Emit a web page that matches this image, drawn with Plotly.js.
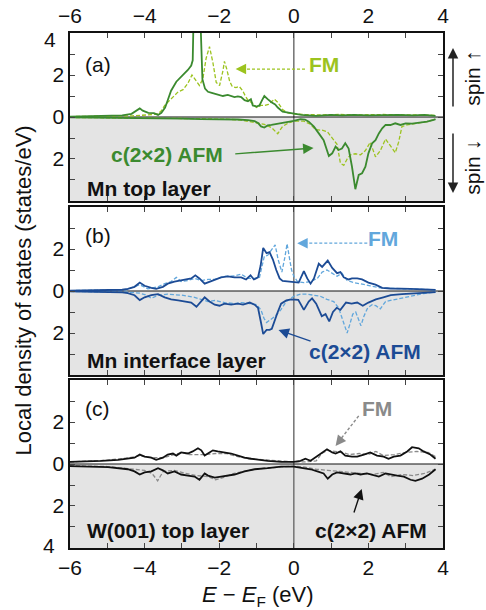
<!DOCTYPE html>
<html>
<head>
<meta charset="utf-8">
<script src="https://cdn.plot.ly/plotly-3.0.1.min.js"></script>
<style>html,body{margin:0;padding:0;background:#fff;}#chart{width:486px;height:610px;}</style>
</head>
<body>
<div id="chart"></div>
<script>
// ---------- DATA (energies in eV, DOS in states/eV; spin-down stored as magnitudes) ----------
// Panel (a): Mn top layer
const aAfmUpX = [-6,-5.5,-5.0,-4.6,-4.35,-4.22,-4.13,-4.05,-3.9,-3.75,-3.64,-3.55,-3.45,-3.38,-3.29,-3.15,-3.02,-2.9,-2.84,-2.75,-2.71,-2.69,-2.6,-2.5,-2.45,-2.38,-2.3,-2.2,-2.12,-2.0,-1.9,-1.77,-1.68,-1.59,-1.5,-1.41,-1.32,-1.23,-1.15,-1.1,-1.0,-0.92,-0.85,-0.79,-0.7,-0.6,-0.5,-0.43,-0.3,-0.16,0,0.2,0.4,0.6,0.8,1.0,1.3,1.6,2.0,2.4,2.8,3.2,3.5,3.8];
const aAfmUpY = [0.02,0.03,0.04,0.08,0.15,0.3,0.41,0.3,0.2,0.18,0.1,0.2,0.45,0.8,1.25,1.68,1.92,2.1,2.24,2.45,2.7,4.5,6,4.5,1.8,1.35,1.2,1.15,1.1,1.05,1.0,1.05,1.0,0.95,0.98,0.95,0.8,0.75,0.85,0.55,0.5,0.55,0.8,1.0,0.85,0.7,0.6,0.45,0.25,0.2,0.15,0.1,0.08,0.05,0.08,0.1,0.08,0.1,0.08,0.1,0.1,0.08,0.1,0.05];
const aAfmDnX = [-6,-5,-4,-3.5,-3,-2.5,-2,-1.5,-1.23,-1.05,-0.95,-0.88,-0.79,-0.7,-0.6,-0.5,-0.33,-0.16,0,0.18,0.3,0.4,0.54,0.67,0.8,0.94,1.03,1.12,1.2,1.29,1.38,1.47,1.56,1.65,1.74,1.83,1.92,2.0,2.1,2.19,2.28,2.37,2.46,2.59,2.72,2.86,3.0,3.17,3.39,3.57,3.75,3.8];
const aAfmDnY = [0.02,0.03,0.05,0.08,0.08,0.1,0.1,0.12,0.15,0.2,0.3,0.45,0.5,0.4,0.38,0.35,0.3,0.25,0.18,0.1,0.12,0.22,0.46,0.78,1.1,1.86,1.73,1.41,1.57,1.5,1.25,1.5,2.37,3.44,2.76,2.68,2.37,1.73,1.25,1.1,0.78,0.54,0.38,0.38,0.3,0.38,0.3,0.32,0.27,0.22,0.14,0.1];
const aFmUpX = [-6,-5,-4.3,-3.91,-3.64,-3.55,-3.46,-3.38,-3.29,-3.2,-3.1,-2.97,-2.84,-2.73,-2.62,-2.53,-2.44,-2.35,-2.26,-2.17,-2.08,-1.99,-1.9,-1.86,-1.8,-1.72,-1.65,-1.55,-1.46,-1.37,-1.3,-1.23,-1.1,-1.0,-0.88,-0.79,-0.68,-0.58,-0.52,-0.43,-0.3,-0.16,0,0.3,0.7,1.2,1.8,2.4,3.0,3.4,3.8];
const aFmUpY = [0.02,0.04,0.06,0.1,0.15,0.3,0.55,0.7,0.85,1.0,1.2,1.3,1.6,2.0,1.7,1.5,1.8,2.8,3.35,2.6,1.65,1.5,2.2,2.65,2.3,1.7,1.45,1.4,1.45,1.25,1.0,0.8,0.65,0.45,0.55,0.55,0.6,0.75,0.85,0.7,0.35,0.2,0.15,0.12,0.1,0.12,0.1,0.12,0.1,0.12,0.08];
const aFmDnX = [-6,-5,-4,-3,-2.5,-2.12,-1.8,-1.41,-1.05,-0.79,-0.6,-0.5,-0.43,-0.36,-0.3,-0.16,0,0.27,0.45,0.58,0.76,0.9,1.03,1.16,1.25,1.34,1.43,1.52,1.65,1.79,1.92,2.05,2.19,2.32,2.46,2.59,2.72,2.81,2.9,3.04,3.3,3.57,3.8];
const aFmDnY = [0.02,0.03,0.04,0.05,0.08,0.1,0.1,0.15,0.25,0.35,0.5,0.65,0.8,0.6,0.45,0.3,0.2,0.2,0.35,0.6,0.63,0.7,1.0,1.3,2.2,2.3,2.0,1.8,1.75,1.8,1.6,1.2,1.9,1.6,1.05,1.35,1.7,1.2,0.45,0.38,0.3,0.22,0.1];

// Panel (b): Mn interface layer
const bAfmUpX = [-6,-5.5,-5.0,-4.6,-4.45,-4.27,-4.13,-4.0,-3.82,-3.69,-3.51,-3.38,-3.2,-3.02,-2.88,-2.75,-2.64,-2.53,-2.39,-2.26,-2.12,-1.95,-1.77,-1.59,-1.41,-1.28,-1.16,-1.07,-0.96,-0.89,-0.82,-0.73,-0.65,-0.56,-0.47,-0.38,-0.3,-0.12,0,0.13,0.27,0.36,0.45,0.54,0.67,0.76,0.91,1.03,1.16,1.25,1.34,1.47,1.56,1.7,1.83,2.0,2.19,2.37,2.59,2.86,3.13,3.48,3.8];
const bAfmUpY = [0.02,0.03,0.04,0.06,0.1,0.2,0.4,0.25,0.15,0.1,0.2,0.35,0.45,0.5,0.55,0.6,0.75,0.6,0.35,0.45,0.55,0.65,0.7,0.65,0.65,0.55,0.75,0.55,0.65,1.2,2.05,1.8,1.85,1.5,1.0,0.6,0.48,0.45,0.45,0.4,0.95,0.6,0.35,0.6,1.3,1.15,1.45,1.1,0.85,0.9,0.65,0.55,0.6,0.6,0.55,0.4,0.3,0.15,0.12,0.12,0.1,0.08,0.05];
const bAfmDnX = [-6,-5.5,-5.0,-4.6,-4.45,-4.27,-4.13,-4.0,-3.82,-3.64,-3.46,-3.29,-3.1,-2.93,-2.75,-2.61,-2.48,-2.39,-2.26,-2.12,-1.99,-1.86,-1.68,-1.5,-1.36,-1.18,-1.05,-0.96,-0.88,-0.82,-0.73,-0.65,-0.59,-0.52,-0.43,-0.34,-0.2,-0.07,0,0.12,0.27,0.4,0.49,0.6,0.75,0.85,0.95,1.05,1.15,1.25,1.4,1.55,1.7,1.85,2.0,2.2,2.4,2.6,2.9,3.2,3.5,3.8];
const bAfmDnY = [0.02,0.03,0.04,0.06,0.1,0.2,0.43,0.3,0.2,0.15,0.3,0.4,0.45,0.5,0.55,0.75,0.5,0.3,0.5,0.65,0.7,0.6,0.65,0.6,0.65,0.55,0.65,0.8,1.5,2.05,1.85,1.85,1.8,1.4,1.0,0.6,0.45,0.4,0.4,0.42,0.9,0.5,0.35,0.6,1.2,1.1,1.45,1.0,0.8,0.9,0.55,0.6,0.55,0.7,0.55,0.4,0.3,0.2,0.15,0.12,0.08,0.05];
const bFmUpX = [-6,-5,-4.5,-4.13,-3.91,-3.64,-3.46,-3.29,-3.15,-3.02,-2.84,-2.66,-2.48,-2.3,-2.12,-1.86,-1.59,-1.41,-1.23,-1.05,-0.92,-0.85,-0.79,-0.7,-0.61,-0.5,-0.42,-0.32,-0.24,-0.18,-0.12,-0.06,0,0.1,0.27,0.45,0.63,0.76,0.89,1.03,1.16,1.29,1.43,1.61,1.79,2.05,2.32,2.59,3.04,3.48,3.8];
const bFmUpY = [0.02,0.03,0.06,0.3,0.1,0.2,0.35,0.45,0.65,0.45,0.5,0.6,0.5,0.55,0.55,0.7,0.72,0.8,0.6,0.6,0.65,1.2,1.65,1.7,1.95,2.2,1.5,0.9,1.6,2.25,1.6,1.0,0.7,0.45,0.4,0.45,0.6,0.9,1.0,0.85,0.7,0.85,0.5,0.4,0.35,0.25,0.15,0.12,0.1,0.08,0.05];
const bFmDnX = [-6,-5,-4.4,-4.13,-3.95,-3.82,-3.7,-3.64,-3.38,-3.0,-2.66,-2.3,-2.12,-1.86,-1.59,-1.41,-1.18,-1.0,-0.88,-0.8,-0.73,-0.65,-0.5,-0.35,-0.2,0,0.18,0.36,0.54,0.71,0.89,1.07,1.2,1.3,1.37,1.43,1.5,1.58,1.66,1.73,1.8,1.88,1.98,2.1,2.2,2.32,2.46,2.59,2.86,3.13,3.48,3.8];
const bFmDnY = [0.02,0.04,0.06,0.1,0.2,0.35,0.25,0.2,0.15,0.2,0.3,0.5,0.45,0.55,0.6,0.55,0.6,0.65,0.9,1.3,1.5,1.4,1.2,0.9,0.5,0.25,0.15,0.15,0.2,0.25,0.4,0.5,0.8,1.3,1.7,2.0,1.6,1.1,1.0,1.3,1.65,1.2,0.8,0.65,0.7,0.85,0.5,0.45,0.35,0.25,0.12,0.05];

// Panel (c): W(001) top layer
const cAfmUpX = [-6,-5.52,-5.16,-4.71,-4.45,-4.27,-4.13,-4.0,-3.82,-3.69,-3.51,-3.38,-3.24,-3.15,-3.02,-2.84,-2.71,-2.57,-2.48,-2.39,-2.26,-2.17,-2.04,-1.86,-1.68,-1.5,-1.32,-1.14,-0.96,-0.7,-0.34,0,0.18,0.31,0.45,0.58,0.71,0.89,1.03,1.12,1.25,1.38,1.56,1.7,1.88,2.05,2.23,2.41,2.54,2.68,2.86,3.04,3.17,3.35,3.48,3.66,3.8];
const cAfmUpY = [0.1,0.12,0.15,0.2,0.25,0.3,0.45,0.35,0.3,0.2,0.3,0.45,0.5,0.4,0.55,0.5,0.6,0.75,0.65,0.4,0.55,0.65,0.6,0.55,0.5,0.4,0.3,0.25,0.2,0.15,0.1,0.1,0.15,0.25,0.15,0.3,0.45,0.7,0.55,0.5,0.6,0.4,0.35,0.35,0.45,0.55,0.4,0.35,0.25,0.35,0.4,0.6,0.8,0.75,0.6,0.45,0.25];
const cAfmDnX = [-6,-5.5,-4.98,-4.45,-4.27,-4.13,-4.0,-3.82,-3.64,-3.51,-3.38,-3.2,-3.02,-2.84,-2.66,-2.53,-2.39,-2.3,-2.12,-1.95,-1.77,-1.59,-1.32,-1.05,-0.7,-0.34,0,0.27,0.45,0.63,0.8,0.91,1.03,1.16,1.34,1.52,1.65,1.79,1.96,2.14,2.28,2.46,2.59,2.77,2.95,3.13,3.26,3.44,3.63,3.8];
const cAfmDnY = [0.1,0.12,0.15,0.25,0.35,0.5,0.4,0.35,0.2,0.3,0.45,0.35,0.5,0.55,0.6,0.75,0.45,0.55,0.65,0.6,0.55,0.5,0.35,0.25,0.2,0.12,0.12,0.2,0.25,0.35,0.45,0.7,0.5,0.4,0.45,0.5,0.45,0.5,0.45,0.55,0.6,0.45,0.5,0.55,0.6,0.75,0.8,0.7,0.5,0.25];
const cFmUpX = [-6,-5,-4.4,-4.13,-3.8,-3.5,-3.2,-3.0,-2.8,-2.6,-2.4,-2.1,-1.8,-1.5,-1.2,-0.8,-0.4,0,0.3,0.6,0.75,0.9,1.1,1.3,1.5,1.75,2.0,2.2,2.4,2.7,3.0,3.3,3.6,3.8];
const cFmUpY = [0.1,0.18,0.3,0.4,0.3,0.3,0.45,0.55,0.45,0.45,0.45,0.5,0.5,0.35,0.25,0.2,0.15,0.1,0.1,0.15,0.5,0.65,0.6,0.55,0.45,0.5,0.45,0.6,0.4,0.45,0.55,0.6,0.55,0.35];
const cFmDnX = [-6,-5,-4.3,-4.0,-3.8,-3.65,-3.5,-3.2,-2.9,-2.6,-2.3,-2.1,-1.9,-1.6,-1.2,-0.8,-0.4,0,0.3,0.6,0.9,1.2,1.5,1.8,2.1,2.4,2.6,2.9,3.2,3.5,3.8];
const cFmDnY = [0.08,0.12,0.25,0.3,0.45,0.8,0.35,0.3,0.45,0.55,0.6,0.75,0.65,0.45,0.3,0.2,0.15,0.1,0.15,0.25,0.3,0.35,0.4,0.45,0.5,0.4,0.6,0.5,0.55,0.45,0.25];

// Tick labels
const xTickVals = [-6,-5,-4,-3,-2,-1,0,1,2,3,4];
const xTickText = ['\u22126','','\u22124','','\u22122','','0','','2','','4'];
const yTickVals = [-4,-3,-2,-1,0,1,2,3,4];
const yTickTextA = ['','','2','','0','','2','',''];   // corner "4" labels drawn separately, nudged off the x labels
const yTickTextB = ['','','2','','0','','2','',''];
const yTickTextC = ['','','2','','0','','2','',''];
const cornerYLabel = '4';

// ---------- STYLE ----------
const FONT = 'Liberation Sans, Arial, Helvetica, sans-serif';
const colors = {
  a: {afm: '#3b8a2f', fm: '#9cc31e'},
  b: {afm: '#1c4b95', fm: '#62a7dc'},
  c: {afm: '#111111', fm: '#8a8a8a'}
};
const neg = arr => arr.map(v => -v);

function panelTraces(p, xa, ya, afmUpX, afmUpY, afmDnX, afmDnY, fmUpX, fmUpY, fmDnX, fmDnY) {
  const fmLine = {color: colors[p].fm, width: 1.3, dash: '4px,2px'};
  const afmLine = {color: colors[p].afm, width: 1.8};
  return [
    {x: fmUpX, y: fmUpY, xaxis: xa, yaxis: ya, type: 'scatter', mode: 'lines', line: fmLine, hoverinfo: 'skip'},
    {x: fmDnX, y: neg(fmDnY), xaxis: xa, yaxis: ya, type: 'scatter', mode: 'lines', line: fmLine, hoverinfo: 'skip'},
    {x: afmUpX, y: afmUpY, xaxis: xa, yaxis: ya, type: 'scatter', mode: 'lines', line: afmLine, hoverinfo: 'skip'},
    {x: afmDnX, y: neg(afmDnY), xaxis: xa, yaxis: ya, type: 'scatter', mode: 'lines', line: afmLine, hoverinfo: 'skip'}
  ];
}

const traces = [].concat(
  panelTraces('a', 'x', 'y', aAfmUpX, aAfmUpY, aAfmDnX, aAfmDnY, aFmUpX, aFmUpY, aFmDnX, aFmDnY),
  panelTraces('b', 'x2', 'y2', bAfmUpX, bAfmUpY, bAfmDnX, bAfmDnY, bFmUpX, bFmUpY, bFmDnX, bFmDnY),
  panelTraces('c', 'x3', 'y3', cAfmUpX, cAfmUpY, cAfmDnX, cAfmDnY, cFmUpX, cFmUpY, cFmDnX, cFmDnY)
);

const tickFont = {family: FONT, size: 21, color: '#111'};
function xAxis(anchor, side, showLabels) {
  return {
    anchor: anchor, side: side, range: [-6, 4], domain: [0, 1],
    tickmode: 'array', tickvals: xTickVals, ticktext: xTickText,
    showticklabels: showLabels, ticks: 'inside', ticklen: 5, tickwidth: 1, tickcolor: '#444',
    showline: true, mirror: 'ticks', linecolor: '#111', linewidth: 1.6,
    showgrid: false, zeroline: false, tickfont: tickFont, fixedrange: true
  };
}
function yAxis(anchor, domain, ticktext) {
  return {
    anchor: anchor, domain: domain, range: [-4, 4],
    tickmode: 'array', tickvals: yTickVals, ticktext: ticktext,
    ticks: 'inside', ticklen: 5, tickwidth: 1, tickcolor: '#444',
    showline: true, mirror: 'ticks', linecolor: '#111', linewidth: 1.6,
    showgrid: false, zeroline: false, tickfont: tickFont, fixedrange: true
  };
}

function panelShapes(xr, yr) {
  return [
    {type: 'rect', xref: xr, yref: yr, x0: -6, x1: 4, y0: -4, y1: 0, fillcolor: '#e4e4e4', line: {width: 0}, layer: 'below'},
    {type: 'line', xref: xr, yref: yr, x0: 0, x1: 0, y0: -4, y1: 4, line: {color: '#7a7a7a', width: 1.6}, layer: 'below'},
    {type: 'line', xref: xr, yref: yr, x0: -6, x1: 4, y0: 0, y1: 0, line: {color: '#111', width: 1.1}, layer: 'below'}
  ];
}

const shapes = [].concat(
  panelShapes('x', 'y'), panelShapes('x2', 'y2'), panelShapes('x3', 'y3'),
  [
    // dashed shafts of FM arrows
    {type: 'line', xref: 'x', yref: 'y', x0: 0.3, y0: 2.28, x1: -1.4, y1: 2.28, line: {color: colors.a.fm, width: 1.4, dash: '3px,2px'}},
    {type: 'line', xref: 'x2', yref: 'y2', x0: 1.97, y0: 2.28, x1: 0.25, y1: 2.28, line: {color: colors.b.fm, width: 1.4, dash: '3px,2px'}},
    {type: 'line', xref: 'x3', yref: 'y3', x0: 1.74, y0: 2.29, x1: 1.25, y1: 1.17, line: {color: colors.c.fm, width: 1.4, dash: '3px,2px'}}
  ]
);

function txt(xr, yr, x, y, text, color, xanchor, bold) {
  return {xref: xr, yref: yr, x: x, y: y, text: bold ? '<b>' + text + '</b>' : text, showarrow: false,
          xanchor: xanchor, yanchor: 'middle', font: {family: FONT, size: 21, color: color}};
}
function arrow(xr, yr, tipX, tipY, tailX, tailY, color) {
  return {xref: xr, yref: yr, x: tipX, y: tipY, axref: xr, ayref: yr, ax: tailX, ay: tailY,
          text: '', showarrow: true, arrowhead: 2, arrowsize: 1.5, arrowwidth: 1.4, arrowcolor: color, standoff: 0};
}

const annotations = [
  // corner y tick labels
  {xref: 'paper', yref: 'y', x: -0.032, y: 3.68, text: cornerYLabel, showarrow: false, xanchor: 'right', yanchor: 'middle',
   font: {family: FONT, size: 21, color: '#111'}},
  {xref: 'paper', yref: 'y3', x: -0.035, y: -3.9, text: cornerYLabel, showarrow: false, xanchor: 'right', yanchor: 'middle',
   font: {family: FONT, size: 21, color: '#111'}},
  // panel a
  txt('x', 'y', -5.66, 2.5, '(a)', '#111', 'left', false),
  txt('x', 'y', 0.8, 2.5, 'FM', colors.a.fm, 'center', true),
  arrow('x', 'y', -1.56, 2.28, -1.3, 2.28, colors.a.fm),
  txt('x', 'y', -3.4, -1.78, 'c(2\u00d72) AFM', colors.a.afm, 'center', true),
  arrow('x', 'y', 0.53, -1.48, -1.61, -1.76, colors.a.afm),
  txt('x', 'y', -5.6, -3.4, 'Mn top layer', '#111', 'left', true),
  // panel b
  txt('x2', 'y2', -5.66, 2.62, '(b)', '#111', 'left', false),
  txt('x2', 'y2', 2.4, 2.5, 'FM', colors.b.fm, 'center', true),
  arrow('x2', 'y2', 0.09, 2.28, 0.35, 2.28, colors.b.fm),
  txt('x2', 'y2', 1.92, -2.9, 'c(2\u00d72) AFM', colors.b.afm, 'center', true),
  arrow('x2', 'y2', -0.41, -1.86, 0.49, -2.41, colors.b.afm),
  txt('x2', 'y2', -5.6, -3.3, 'Mn interface layer', '#111', 'left', true),
  // panel c
  txt('x3', 'y3', -5.66, 2.62, '(c)', '#111', 'left', false),
  txt('x3', 'y3', 2.24, 2.62, 'FM', colors.c.fm, 'center', true),
  arrow('x3', 'y3', 1.12, 0.86, 1.31, 1.29, colors.c.fm),
  txt('x3', 'y3', 2.06, -3.19, 'c(2\u00d72) AFM', '#111', 'center', true),
  arrow('x3', 'y3', 1.82, -1.19, 1.6, -2.38, '#111'),
  txt('x3', 'y3', -5.6, -3.19, 'W(001) top layer', '#111', 'left', true),
  // axis titles
  {xref: 'paper', yref: 'paper', x: -0.126, y: 0.5, text: 'Local density of states (states/eV)', textangle: -90,
   showarrow: false, xanchor: 'center', yanchor: 'middle', font: {family: FONT, size: 22, color: '#111'}},
  {xref: 'paper', yref: 'paper', x: 0.504, y: -0.093, text: '<i>E</i> \u2212 <i>E</i><sub>F</sub> (eV)',
   showarrow: false, xanchor: 'center', yanchor: 'middle', font: {family: FONT, size: 22, color: '#111'}},
  // spin labels
  {xref: 'paper', yref: 'paper', x: 1.077, y: 0.9126, text: 'spin \u2191', textangle: -90,
   showarrow: false, xanchor: 'center', yanchor: 'middle', font: {family: FONT, size: 21, color: '#111'}},
  {xref: 'paper', yref: 'paper', x: 1.077, y: 0.7398, text: 'spin \u2193', textangle: -90,
   showarrow: false, xanchor: 'center', yanchor: 'middle', font: {family: FONT, size: 21, color: '#111'}},
  {xref: 'paper', yref: 'paper', x: 1.0268, y: 0.9709, ax: 0, ay: 60, text: '', showarrow: true,
   arrowhead: 2, arrowsize: 1.4, arrowwidth: 1.5, arrowcolor: '#222', standoff: 0},
  {xref: 'paper', yref: 'paper', x: 1.0268, y: 0.6893, ax: 0, ay: -61, text: '', showarrow: true,
   arrowhead: 2, arrowsize: 1.4, arrowwidth: 1.5, arrowcolor: '#222', standoff: 0}
];

const layout = {
  width: 486, height: 610,
  margin: {l: 70, r: 43, t: 33, b: 62, pad: 0},
  paper_bgcolor: '#ffffff', plot_bgcolor: '#ffffff',
  showlegend: false,
  font: {family: FONT, size: 21, color: '#111'},
  xaxis: xAxis('y', 'top', true),
  xaxis2: xAxis('y2', 'bottom', false),
  xaxis3: xAxis('y3', 'bottom', true),
  yaxis: yAxis('x', [0.6738, 1], yTickTextA),
  yaxis2: yAxis('x2', [0.3359, 0.6621], yTickTextB),
  yaxis3: yAxis('x3', [0, 0.3262], yTickTextC),
  shapes: shapes,
  annotations: annotations
};

Plotly.newPlot('chart', traces, layout, {staticPlot: true, displayModeBar: false});
</script>
</body>
</html>
